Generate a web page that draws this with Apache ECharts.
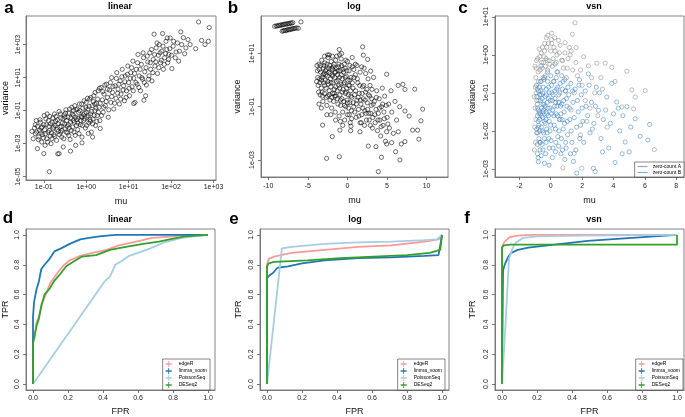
<!DOCTYPE html>
<html>
<head>
<meta charset="utf-8">
<script src="https://cdn.jsdelivr.net/npm/echarts/dist/echarts.min.js"></script>
<style>
  html, body { margin: 0; padding: 0; background: #fff; }
  #main { width: 685px; height: 417px; }
</style>
</head>
<body>
<div id="main"></div>
<script>
// ---- data (log panels keep log10 values) ----
// a: linear, [log10 mu, log10 variance]
const aPoints = [
  [-1.28,-2.25],[-1.22,-2.05],[-1.2,-2.4],[-1.15,-1.95],[-1.12,-2.6],[-1.1,-2.2],[-1.08,-1.7],[-1.05,-2.9],[-1.03,-2.45],[-1.0,-1.85],
  [-0.98,-2.15],[-0.97,-3.1],[-0.95,-1.5],[-0.93,-2.7],[-0.9,-2.3],[-0.88,-1.95],[-0.86,-1.35],[-0.85,-2.55],[-0.83,-3.0],[-0.8,-1.7],
  [-0.78,-2.1],[-0.76,-2.45],[-0.75,-1.2],[-0.73,-1.9],[-0.7,-2.8],[-0.68,-1.55],[-0.66,-2.25],[-0.64,-1.05],[-0.62,-2.0],[-0.6,-1.45],
  [-0.58,-2.6],[-0.56,-1.75],[-0.54,-3.2],[-0.52,-1.25],[-0.5,-2.1],[-0.48,-0.95],[-0.46,-1.6],[-0.44,-2.35],[-0.42,-1.85],[-0.4,-1.15],
  [-0.38,-2.75],[-0.36,-1.45],[-0.34,-0.8],[-0.32,-2.0],[-0.3,-1.3],[-0.28,-1.7],[-0.26,-2.5],[-0.24,-0.95],[-0.22,-1.55],[-0.2,-2.15],
  [-0.18,-1.1],[-0.16,-0.6],[-0.14,-1.85],[-0.12,-1.35],[-0.1,-2.6],[-0.08,-0.85],[-0.06,-1.6],[-0.04,-1.15],[-0.02,-2.05],[0.0,-0.5],
  [0.02,-1.4],[0.04,-0.9],[0.06,-1.75],[0.08,-0.3],[0.1,-1.2],[0.12,-2.3],[0.14,-0.7],[0.16,-1.5],[0.18,-0.1],[0.2,-1.0],
  [0.22,-1.9],[0.24,-0.55],[0.26,-1.3],[0.28,0.2],[0.3,-0.8],[-1.25,-2.7],[-1.18,-1.6],[-1.06,-2.05],[-0.92,-1.2],[-0.82,-2.35],
  [-0.72,-1.65],[-0.6,-2.3],[-0.5,-1.4],[-0.4,-2.05],[-0.3,-1.0],[-0.2,-1.75],[-0.1,-1.4],[0.0,-1.1],[0.1,-1.65],[0.2,-0.6],
  [-0.87,-4.7],[-1.0,-3.6],[-0.67,-3.62],[-0.64,-3.6],[-0.37,-3.45],[-1.15,-3.3],[-0.25,-3.1],[-0.1,-2.95],[0.15,-2.6],[0.33,-2.08],[0.05,-2.38],
  [0.32,-1.6],[0.35,0.4],[0.38,-0.35],[0.4,-1.1],[0.42,0.0],[0.45,-0.7],[0.48,0.6],[0.5,-0.2],[0.52,-1.4],[0.55,0.25],
  [0.58,-0.5],[0.6,1.0],[0.62,0.1],[0.65,-0.9],[0.68,0.5],[0.7,-0.25],[0.72,1.3],[0.75,0.3],[0.78,-0.6],[0.8,0.8],
  [0.82,0.0],[0.85,1.5],[0.88,0.5],[0.9,-0.4],[0.92,1.1],[0.95,0.2],[0.98,1.7],[1.0,0.7],[1.02,-0.1],[1.05,1.3],
  [1.08,0.45],[1.1,2.0],[1.12,0.95],[1.15,-0.5],[1.18,1.5],[1.2,0.6],[1.22,2.4],[1.25,1.1],[1.28,0.2],[1.3,1.8],
  [1.33,0.9],[1.35,2.2],[1.38,1.35],[1.4,-0.1],[1.42,0.55],[1.45,1.95],[1.48,1.1],[1.12,-0.57],[1.36,-0.37],
  [1.5,2.5],[1.52,1.5],[1.55,0.8],[1.58,2.1],[1.6,3.63],[1.62,1.7],[1.65,2.8],[1.68,1.25],[1.7,2.35],[1.72,3.0],
  [1.75,1.9],[1.78,2.6],[1.8,3.67],[1.82,1.5],[1.85,2.2],[1.88,3.2],[1.9,2.7],[1.92,1.9],[1.95,2.4],[1.98,3.4],
  [2.02,1.55],[2.05,2.9],[2.1,2.2],[2.15,3.1],[2.2,2.6],[2.23,3.77],[2.29,3.42],[2.35,2.8],[2.45,3.0],[2.58,2.75],
  [2.65,4.37],[2.72,3.25],[2.8,3.0],[2.9,4.03],[2.88,3.2],
  [-1.2,-1.85],[-1.17,-2.3],[-1.13,-2.75],[-1.09,-1.55],[-1.07,-2.35],[-1.04,-2.0],[-1.01,-2.65],[-0.99,-1.3],[-0.96,-2.4],[-0.94,-1.85],
  [-0.91,-2.9],[-0.89,-1.6],[-0.87,-2.2],[-0.84,-1.8],[-0.81,-2.7],[-0.79,-1.45],[-0.77,-2.0],[-0.74,-2.55],[-0.71,-1.35],[-0.69,-2.15],
  [-0.67,-1.8],[-0.63,-2.45],[-0.61,-1.2],[-0.59,-1.95],[-0.57,-2.2],[-0.55,-1.5],[-0.53,-2.7],[-0.51,-1.8],[-0.49,-1.15],[-0.47,-2.3],
  [-0.45,-1.95],[-0.43,-1.4],[-0.41,-2.5],[-0.39,-0.9],[-0.37,-1.7],[-0.35,-2.2],[-0.33,-1.2],[-0.31,-1.6],[-0.29,-2.3],[-0.27,-0.7],
  [-0.25,-1.4],[-0.23,-1.9],[-0.21,-0.9],[-0.19,-1.45],[-0.17,-2.4],[-0.15,-1.0],[-0.13,-1.6],[-0.11,-0.6],[-0.09,-1.9],[-0.07,-1.25],
  [-0.05,-0.4],[-0.03,-1.5],[-0.01,-0.8],[0.01,-1.9],[0.03,-0.25],[0.05,-1.3],[0.07,-0.75],[0.09,-1.55],[0.11,-0.2],[0.13,-1.05],
  [0.15,-1.8],[0.17,-0.45],[0.19,-1.3],[0.21,0.1],[0.23,-0.85],[0.25,-1.65],[0.27,-0.3],[0.29,-1.1],[0.31,0.35],[0.33,-0.55],
  [0.36,-1.3],[0.39,0.15],[0.41,-0.8],[0.44,0.55],[0.47,-0.45],[0.5,0.3],[0.53,-0.95],[0.57,0.7],[0.6,-0.15],[0.63,0.45],
  [0.67,-0.55],[0.71,0.95],[0.74,0.05],[0.77,0.6],[0.81,-0.3],[0.84,1.05],[0.87,0.25],[0.91,0.75],[0.94,-0.2],[0.97,1.2],
  [1.01,0.35],[1.04,0.95],[1.07,1.6],[1.11,0.2],[1.14,1.25],[1.17,0.7],[1.21,1.9],[1.24,0.4],[1.27,1.5],[1.31,1.0],
  [1.34,2.5],[1.37,0.7],[1.41,1.6],[1.44,2.3],[1.47,0.9],[1.51,1.9],[1.54,2.7],[1.57,1.3],[1.61,2.4],[1.64,1.95],
  [1.67,3.1],[1.71,1.6],[1.74,2.5],[1.77,2.05],[1.81,2.9],[1.84,1.8],[1.87,2.45],[1.91,3.4],[1.94,2.1],[1.97,2.75],
  [2.01,2.35],[2.06,3.2],[2.12,2.55],[2.18,2.0],[2.25,3.0],[2.32,2.45],[2.4,3.3]
];
// b: log, [mu, log10 variance]
const bPoints = [
  [-9.2,2.02],[-9.0,2.04],[-8.85,2.03],[-8.7,2.06],[-8.55,2.05],[-8.4,2.08],[-8.25,2.07],[-8.1,2.09],[-7.95,2.1],[-7.8,2.11],
  [-7.65,2.1],[-7.5,2.13],[-7.35,2.12],[-7.2,2.15],[-7.05,2.14],[-6.9,2.16],
  [-8.25,1.84],[-8.1,1.85],[-7.95,1.87],[-7.8,1.86],[-7.65,1.88],[-7.5,1.9],[-7.35,1.89],[-7.2,1.91],[-7.05,1.92],[-6.9,1.93],
  [-6.75,1.94],[-6.6,1.95],[-6.4,1.96],[-6.2,1.95],[-5.87,2.19],
  [-3.8,0.35],[-3.7,-0.2],[-3.6,0.6],[-3.5,0.05],[-3.45,-0.55],[-3.4,0.3],[-3.3,-0.3],[-3.25,0.75],[-3.2,0.1],[-3.1,-0.8],
  [-3.05,0.45],[-3.0,-0.1],[-2.95,0.25],[-2.9,-0.5],[-2.85,0.65],[-2.8,0.0],[-2.7,-0.3],[-2.65,0.4],[-2.6,-0.95],[-2.55,0.15],
  [-2.5,-0.6],[-2.45,0.85],[-2.4,-0.15],[-2.35,0.3],[-2.3,-0.4],[-2.25,0.55],[-2.2,-0.75],[-2.15,0.05],[-2.1,-0.25],[-2.05,0.7],
  [-2.0,-1.05],[-1.95,0.2],[-1.9,-0.5],[-1.85,0.4],[-1.8,-0.1],[-1.75,-0.8],[-1.7,0.6],[-1.65,-0.35],[-1.6,0.1],[-1.55,-1.2],
  [-1.5,0.3],[-1.45,-0.6],[-1.4,-0.05],[-1.35,0.9],[-1.3,-0.4],[-1.25,0.2],[-1.2,-0.9],[-1.15,0.5],[-1.1,-0.2],[-1.05,-1.35],[-1.0,0.1],
  [-0.95,-0.55],[-0.9,0.35],[-0.85,-0.95],[-0.8,-0.15],[-0.75,0.55],[-0.7,-0.7],[-0.65,0.05],[-0.6,-1.2],[-0.55,-0.35],[-0.5,0.3],
  [-0.45,-0.8],[-0.4,-0.1],[-0.35,-1.5],[-0.3,0.45],[-0.25,-0.5],[-0.2,-1.0],[-0.15,0.15],[-0.1,-0.3],[-0.05,-0.75],[0.0,-1.3],
  [0.05,0.0],[0.1,-0.55],[0.15,-1.05],[0.2,0.35],[0.25,-0.2],[0.3,-0.85],[0.35,-1.6],[0.4,-0.4],[0.45,0.1],[0.5,-1.15],
  [0.55,-0.65],[0.6,0.5],[0.7,-0.3],[0.8,-1.0],[0.9,-0.55],[1.0,0.2],[1.1,-1.4],[1.2,-0.75],[1.3,-0.1],[1.4,-1.1],
  [1.5,-0.5],[1.6,0.3],[1.7,-0.9],[1.8,-1.3],[1.9,-0.25],[2.0,-0.7],[2.1,0.45],[2.2,-1.15],[2.3,-0.45],[2.4,-1.5],
  [2.5,-0.85],[2.6,0.05],[2.7,-1.25],[2.8,-0.6],[2.9,-1.7],[3.0,-0.95],[3.1,-0.35],[3.2,-1.4],[3.3,0.1],
  [3.4,-0.8],[3.5,-1.6],[3.6,-1.1],[3.7,-0.4],[3.8,-1.9],[3.9,-1.25],[4.0,-0.7],[4.1,-1.5],[4.2,-2.1],[4.3,-1.0],
  [4.4,-0.3],[4.5,-1.7],[4.6,-1.2],[4.7,-0.6],[4.8,-2.3],[5.0,-1.4],[5.2,-0.9],[5.3,-1.8],[5.5,-0.4],[5.6,-1.2],
  [5.8,-2.0],[6.0,-0.8],[6.2,-1.5],[6.4,-0.2],[6.6,-1.0],[6.8,-2.4],
  [-3.2,-0.45],[-2.75,0.2],[-2.3,0.95],[-2.0,0.45],[-1.6,-0.6],[-1.2,0.35],[-0.8,0.8],[-0.4,0.6],[0.0,0.7],[0.4,-1.9],
  [0.8,0.4],[1.2,0.55],[1.6,-1.6],[-1.5,-1.5],[-2.6,-1.3],[-0.6,-1.7],[-3.6,-0.9],
  [-3.14,-1.69],[-1.92,-2.12],[-0.95,-1.88],[1.58,-1.94],[2.63,-2.48],[3.6,-2.5],[4.95,-2.4],[0.44,-1.73],
  [-2.63,-2.94],[-1.03,-2.88],[3.9,-3.44],[4.3,-2.9],[6.63,-3.0],[6.08,-2.69],
  [-1.03,1.15],[1.92,1.25],[2.0,0.94],[-0.74,1.0],[2.55,0.78],[2.93,0.34],[4.95,0.22],[7.0,-0.16],[8.5,-0.34],[7.26,-0.35],
  [9.5,-1.09],[9.28,-1.53],[9.03,-2.22],[8.86,-1.88],[7.8,-1.35],[7.26,-1.16],[8.23,-1.88],[7.26,-2.31],[6.42,-1.94],[5.58,-2.35],[4.95,-1.94],
  [-3.75,0.1],[-3.65,-0.45],[-3.55,0.4],[-3.48,-0.1],[-3.38,0.55],[-3.28,0.0],[-3.18,-0.6],[-3.08,0.2],[-2.98,0.55],[-2.88,-0.2],
  [-2.78,0.35],[-2.68,-0.65],[-2.58,0.6],[-2.48,-0.05],[-2.38,0.45],[-2.28,-0.55],[-2.18,0.25],[-2.08,-0.1],[-1.98,-0.65],[-1.88,0.15],
  [-1.78,0.5],[-1.68,-0.5],[-1.58,0.3],[-1.48,-0.25],[-1.38,0.45],[-1.28,-0.7],[-1.18,0.0],[-1.08,0.6],[-0.98,-0.3],[-0.88,-0.75],
  [-0.78,0.2],[-0.68,-0.45],[-0.58,0.4],[-0.48,-0.15],[-0.38,-0.95],[-0.28,0.1],[-0.18,-0.45],[-0.08,0.35],[0.02,-0.85],[0.12,-0.2],
  [0.22,-1.3],[0.32,0.0],[0.42,-0.6],[0.52,-1.45],[0.62,-0.1],[0.72,-0.85],[0.82,0.1],[0.92,-1.2],[1.02,-0.4],[1.12,-0.9],
  [1.25,0.05],[1.35,-0.65],[1.45,-1.35],[1.55,-0.2],[1.65,-0.75],[1.75,-1.6],[1.85,-0.5],[1.95,-1.05],[2.05,-0.2],[2.15,-1.7],
  [2.25,-0.75],[2.35,-1.25],[2.45,-0.35],[2.55,-1.1],[2.65,-0.55],[2.75,-1.5],[2.85,-0.2],[2.95,-1.25],[3.05,-0.7],[3.15,-1.8],
  [3.25,-0.9],[3.45,-1.3],[3.65,-0.65],[3.85,-1.5],[4.05,-1.05],[4.25,-1.75],[4.45,-0.9],[4.65,-1.45],[4.9,-0.95],[5.1,-1.65],
  [-3.9,-0.05],[-3.85,0.55],[-2.5,0.95],[-1.9,0.9],[-1.0,0.95],[-0.2,0.75],[0.6,0.85],[-3.3,-1.05],[-2.1,-1.3],[-0.9,-1.55],
  [-2.9,0.9],[-1.5,0.75],[0.3,0.55],[1.0,0.6],[1.8,0.5],[2.3,0.25]
];
// c: vsn, [mu, log10 variance]
const cPointsA = [
  [1.55,0.84],[0.06,0.57],[-0.19,0.51],[1.38,0.54],[0.49,0.38],[0.91,0.32],[1.19,0.19],[1.62,0.19],[0.06,0.3],[0.28,0.1],
  [1.23,0.0],[0.7,-0.14],[2.4,-0.29],[2.94,-0.22],[3.47,-0.22],[3.89,-0.33],[4.85,-0.43],[4.1,-0.7],[5.17,-0.92],[6.02,-0.94],
  [5.38,-1.11],[4.53,-1.37],[5.28,-1.42],[6.6,-2.49],[1.98,-2.98],[0.77,-2.97],[1.49,-2.59],[-1.04,-2.5],
  [-1.0,-0.3],[-0.95,-0.6],[-0.9,-0.15],[-0.85,-0.9],[-0.8,-0.45],[-0.75,-1.2],[-0.7,-0.05],[-0.65,-0.7],[-0.6,0.05],[-0.55,-0.35],
  [-0.5,-1.5],[-0.45,-0.2],[-0.4,0.1],[-0.35,-0.55],[-0.3,-0.1],[-0.25,0.2],[-0.2,-0.4],[-0.1,-0.15],[0.0,0.1],[0.1,-0.3],
  [0.2,0.2],[0.35,-0.2],[0.45,-0.45],[0.55,0.05],[0.8,-0.35],[1.0,-0.6],[1.1,-0.1],[1.4,-0.4],[1.7,-0.55],[2.0,-0.8],
  [2.2,-1.2],[2.6,-0.6],[2.8,-1.0],[3.0,-1.6],[3.3,-0.9],[3.6,-1.9],[-0.95,-1.7],[-0.9,-2.05],[-0.85,-1.4],[-0.8,-1.9],
  [-1.05,-1.1],[-0.7,-2.3],[0.3,-1.25],[0.6,-1.7],[1.3,-1.45],[1.9,-2.1],[2.3,-1.75],[1.5,-1.0],
  [-0.98,-0.85],[-0.93,-0.35],[-0.88,-1.2],[-0.83,-0.1],[-0.78,-0.7],[-0.73,0.15],[-0.68,-0.4],[-0.63,-0.95],[-0.58,-0.2],[-0.53,0.2],
  [-0.48,-0.6],[-0.43,-0.05],[-0.38,0.3],[-0.33,-0.3],[-0.28,0.45],[-0.23,-0.15],[-0.15,0.3],[-0.05,-0.25],[0.05,0.4],[0.15,-0.1],
  [0.25,0.45],[0.4,0.0],[0.6,0.25],[0.75,-0.15],[0.9,0.05],[1.05,-0.35],[1.3,0.1],[1.6,-0.2],[1.9,-0.4],[2.1,-0.05],
  [-1.0,-1.4],[-0.97,-2.3],[-0.92,-1.0],[-1.02,-1.9],[-0.85,-2.6],[-0.75,-1.55],[0.2,-0.7],[0.95,-0.95],[2.5,-1.4],[3.2,-0.6]
];
const cPointsB = [
  [-0.9,-0.8],[-0.85,-1.3],[-0.8,-1.75],[-0.78,-0.95],[-0.75,-2.2],[-0.72,-1.5],[-0.7,-1.05],[-0.68,-2.5],[-0.65,-1.2],[-0.62,-0.7],
  [-0.6,-1.9],[-0.58,-1.4],[-0.55,-2.35],[-0.52,-1.0],[-0.5,-1.65],[-0.48,-0.85],[-0.45,-2.05],[-0.42,-1.3],[-0.4,-1.75],[-0.38,-0.6],
  [-0.35,-1.1],[-0.32,-2.6],[-0.3,-1.5],[-0.28,-0.9],[-0.25,-1.95],[-0.22,-1.25],[-0.2,-0.7],[-0.15,-1.6],[-0.12,-2.2],[-0.1,-1.0],
  [-0.05,-1.4],[0.0,-1.85],[0.05,-0.8],[0.1,-1.2],[0.15,-2.45],[0.2,-1.6],[0.25,-0.95],[0.3,-1.95],[0.35,-0.6],[0.4,-1.35],
  [0.45,-2.15],[0.5,-1.05],[0.55,-1.7],[0.6,-0.75],[0.65,-2.6],[0.7,-1.3],[0.75,-0.9],[0.8,-1.95],[0.85,-1.5],[0.9,-0.65],
  [0.95,-2.3],[1.0,-1.15],[1.05,-1.75],[1.1,-0.85],[1.2,-1.4],[1.3,-2.0],[1.4,-0.95],[1.5,-1.65],[1.6,-2.5],[1.7,-1.2],
  [1.8,-0.8],[1.9,-1.85],[2.0,-1.4],[2.1,-2.3],[2.2,-0.95],[2.35,-1.6],[2.5,-2.05],[2.6,-1.25],[2.75,-1.8],[2.9,-0.85],
  [3.04,-1.46],[3.2,-2.2],[3.35,-1.7],[3.57,-1.11],[3.7,-2.45],[3.89,-0.75],[4.0,-1.55],[4.21,-1.24],[4.4,-2.0],[4.6,-1.6],
  [4.85,-1.36],[5.0,-2.55],[5.38,-1.68],[5.7,-2.14],[6.19,-2.24],[6.3,-1.83],[4.74,-2.29],[4.1,-2.83],[2.72,-2.98],[2.83,-3.07],
  [1.66,-3.11],[-0.11,-2.9],[-0.79,-2.81],[-0.8,-2.7],[2.4,-0.5],[1.83,-0.66],[0.7,-0.55],[0.28,-0.24],[-0.62,-0.29],
  [-0.85,-1.6],[-0.75,-1.85],[-0.65,-1.55],[-0.55,-1.15],[-0.45,-1.45],[-0.35,-1.8],[-0.25,-1.55],[-0.15,-1.15],[-0.05,-2.0],[0.05,-1.55],
  [0.15,-1.05],[0.25,-1.35],[0.35,-1.55],[0.45,-0.85],[0.55,-1.25],[0.65,-1.55],[-0.9,-1.95],[-0.7,-2.0],[-0.5,-2.5],[-0.3,-2.3],
  [-0.1,-2.45],[0.1,-2.7],[0.5,-2.4],[0.9,-2.75],[1.25,-2.6],[-0.2,-0.45],[0.0,-0.55],[0.4,-0.45],
  [-0.88,-1.1],[-0.83,-2.05],[-0.79,-1.45],[-0.74,-0.85],[-0.7,-1.7],[-0.66,-2.3],[-0.61,-1.05],[-0.57,-1.6],[-0.53,-2.0],[-0.49,-1.3],
  [-0.44,-0.65],[-0.4,-2.2],[-0.36,-1.35],[-0.31,-1.7],[-0.27,-1.05],[-0.23,-2.05],[-0.18,-1.4],[-0.14,-0.85],[-0.09,-1.75],[-0.04,-1.2],
  [0.02,-2.25],[0.07,-1.0],[0.12,-1.45],[0.18,-0.7],[0.22,-1.85],[0.27,-1.15],[0.33,-2.3],[0.38,-0.9],[0.43,-1.6],[0.48,-1.25],
  [0.53,-2.0],[0.58,-1.0],[0.63,-1.35],[0.68,-2.2],[0.73,-1.7],[0.78,-0.7],[0.83,-1.2],[0.88,-1.8],[0.93,-0.95],[0.98,-2.45],
  [1.03,-1.35],[1.08,-2.1],[1.15,-1.05],[1.22,-1.7],[1.28,-0.75],[1.35,-2.3],[1.42,-1.25],[1.55,-0.9],[1.65,-1.9],[1.75,-1.5],
  [1.85,-2.2],[1.95,-1.05],[2.05,-1.75],[2.25,-1.35],[2.45,-0.8],[2.65,-1.95],[2.85,-1.35],[3.1,-1.0],[3.3,-2.55],[3.5,-1.45],
  [3.8,-1.8],[4.3,-1.4],[4.55,-2.6],[5.1,-1.9],[-0.86,-2.35],[-0.6,-2.65],[-0.4,-2.85],[0.3,-2.55],[0.75,-2.5],[1.45,-2.8]
];

// ROC curves, [FPR, TPR]
const dEdgeR   = [[0,0],[0,0.3],[0.01,0.32],[0.02,0.41],[0.04,0.48],[0.05,0.54],[0.076,0.61],[0.1,0.68],[0.13,0.73],[0.17,0.79],[0.21,0.83],[0.27,0.86],[0.34,0.88],[0.42,0.9],[0.49,0.93],[0.59,0.955],[0.68,0.98],[0.8,0.99],[0.87,1.0],[1,1]];
const dLimma   = [[0,0],[0,0.45],[0.006,0.55],[0.019,0.63],[0.034,0.69],[0.047,0.77],[0.066,0.8],[0.095,0.84],[0.123,0.89],[0.16,0.91],[0.21,0.94],[0.27,0.97],[0.32,0.98],[0.38,0.99],[0.47,1.0],[1,1]];
const dPoisson = [[0,0],[0.41,0.69],[0.44,0.72],[0.47,0.8],[0.5,0.82],[0.55,0.86],[0.6,0.88],[0.67,0.91],[0.75,0.95],[0.85,0.98],[1,1]];
const dDeseq   = [[0,0],[0,0.27],[0.01,0.33],[0.02,0.39],[0.034,0.44],[0.047,0.52],[0.066,0.6],[0.095,0.64],[0.12,0.69],[0.15,0.73],[0.19,0.79],[0.23,0.82],[0.28,0.855],[0.36,0.865],[0.44,0.9],[0.53,0.92],[0.63,0.94],[0.72,0.955],[0.8,0.975],[0.87,0.99],[1,1]];

const eEdgeR   = [[0,0],[0,0.8],[0.01,0.84],[0.04,0.855],[0.14,0.88],[0.33,0.9],[0.52,0.92],[0.71,0.93],[0.9,0.955],[0.98,0.97],[1,1]];
const eLimma   = [[0,0],[0,0.71],[0.015,0.73],[0.034,0.745],[0.06,0.78],[0.12,0.79],[0.2,0.81],[0.33,0.83],[0.52,0.845],[0.71,0.85],[0.9,0.86],[0.98,0.865],[0.99,0.93],[1,1]];
const ePoisson = [[0,0],[0.085,0.91],[0.14,0.92],[0.33,0.94],[0.52,0.95],[0.71,0.955],[0.9,0.965],[0.97,0.97],[1,1]];
const eDeseq   = [[0,0],[0,0.79],[0.01,0.81],[0.04,0.82],[0.23,0.83],[0.42,0.845],[0.61,0.855],[0.8,0.865],[0.93,0.88],[0.99,0.9],[1,1]];

const fEdgeR   = [[0,0],[0,0.92],[0.015,0.955],[0.044,0.985],[0.09,0.995],[0.17,1],[1,1]];
const fLimma   = [[0,0],[0.006,0.76],[0.015,0.8],[0.034,0.85],[0.053,0.88],[0.09,0.9],[0.15,0.915],[0.3,0.935],[0.49,0.96],[0.68,0.975],[0.87,0.99],[1,1]];
const fPoisson = [[0,0],[0.02,0.4],[0.04,0.84],[0.06,0.91],[0.08,0.95],[0.12,0.98],[0.2,0.99],[0.45,0.995],[1,1]];
const fDeseq   = [[0,0],[0,0.915],[0.01,0.93],[0.05,0.935],[1,0.935],[1,1]];

// tick positions
const aTicksX = [-1, 0, 1, 2, 3];
const aTicksY = [-5, -3, -1, 1, 3];
const bTicksX = [-10, -5, 0, 5, 10];
const bTicksY = [-3, -1, 1];
const cTicksX = [-2, 0, 2, 4, 6, 8];
const cTicksY = [-3, -2, -1, 0, 1];
const rocTicks = [0, 0.2, 0.4, 0.6, 0.8, 1.0];

const methods = ["edgeR", "limma_voom", "PoissonSeq", "DESeq2"];
const groups  = ["zero-count A", "zero-count B"];

// ---- layout ----
const FONT = "Liberation Sans, Arial, sans-serif";
const colors = { edgeR: "#fb9a99", limma_voom: "#1f78b4", PoissonSeq: "#a6cee3", DESeq2: "#33a02c" };
const boxes = [
    { left: 26,  top: 16,  width: 190, height: 164 },
    { left: 261, top: 16,  width: 187, height: 161 },
    { left: 495, top: 16,  width: 189, height: 161 },
    { left: 26,  top: 229, width: 189, height: 163 },
    { left: 260, top: 229, width: 189, height: 163 },
    { left: 495, top: 229, width: 189, height: 163 }
];

function logLabel(v) {
    let e = Math.round(v);
    return "1e" + (e < 0 ? "-" : "+") + String(Math.abs(e)).padStart(2, "0");
}
function plain(v) { return String(v); }
function fixed1(v) { return v.toFixed(1); }

function makeAxis(i, min, max, ticks, fmt, name, nameGap, margin, isY) {
    return {
        type: "value", gridIndex: i, min: min, max: max,
        name: name, nameLocation: "middle", nameGap: nameGap,
        nameTextStyle: { fontFamily: FONT, fontSize: 9, color: "#111" },
        axisLine: { show: true, onZero: false, lineStyle: { color: "#666", width: 0.8 } },
        axisTick: { show: true, length: 3, customValues: ticks, lineStyle: { color: "#555", width: 0.8 } },
        axisLabel: { customValues: ticks, formatter: fmt, fontFamily: FONT, fontSize: 7, color: "#222", margin: margin, rotate: isY ? 90 : 0 },
        splitLine: { show: false }
    };
}

const xAxes = [
    makeAxis(0, -1.42, 3.06, aTicksX, logLabel, "mu", 17, 4),
    makeAxis(1, -10.92, 12.7, bTicksX, plain, "mu", 19, 6),
    makeAxis(2, -3.55, 8.49, cTicksX, plain, "mu", 19, 6),
    makeAxis(3, -0.04, 1.04, rocTicks, fixed1, "FPR", 17, 5),
    makeAxis(4, -0.04, 1.04, rocTicks, fixed1, "FPR", 17, 5),
    makeAxis(5, -0.04, 1.04, rocTicks, fixed1, "FPR", 17, 5)
];
const yAxes = [
    makeAxis(0, -5.2, 4.73, aTicksY, logLabel, "variance", 16, 4, true),
    makeAxis(1, -3.64, 2.41, bTicksY, logLabel, "variance", 19, 5, true),
    makeAxis(2, -3.21, 1.02, cTicksY, logLabel, "variance", 18, 5, true),
    makeAxis(3, -0.04, 1.04, rocTicks, fixed1, "TPR", 16, 5, true),
    makeAxis(4, -0.04, 1.04, rocTicks, fixed1, "TPR", 17, 5, true),
    makeAxis(5, -0.04, 1.04, rocTicks, fixed1, "TPR", 18, 5, true)
];

function scatter(name, pts, i, color) {
    return {
        type: "scatter", name: name, xAxisIndex: i, yAxisIndex: i, data: pts,
        symbol: "circle", symbolSize: 4.2, silent: true,
        itemStyle: { color: "rgba(0,0,0,0)", borderColor: color, borderWidth: 0.7 }
    };
}
function roc(name, pts, i) {
    return {
        type: "line", name: name, xAxisIndex: i, yAxisIndex: i, data: pts,
        symbol: "none", silent: true,
        lineStyle: { color: colors[name], width: 1.8 },
        itemStyle: { color: colors[name] }
    };
}

const CROSS = "path://M0,3.6H10V6.4H0Z M4.3,0H5.7V10H4.3Z";
function rocLegend(right, bottom) {
    return {
        orient: "vertical", right: right, bottom: bottom,
        data: methods, icon: CROSS, itemWidth: 10, itemHeight: 6, itemGap: 1,
        padding: [2, 3], borderColor: "#333", borderWidth: 0.6, backgroundColor: "#fff",
        itemStyle: { borderWidth: 0 }, selectedMode: false,
        textStyle: { fontFamily: FONT, fontSize: 5, color: "#000" }
    };
}

let texts = [
    ["a", 9, 8, 17], ["b", 233, 8, 17], ["c", 463, 8, 17],
    ["d", 8, 218, 17], ["e", 234, 219, 17], ["f", 467, 218, 17]
].map(t => ({ type: "text", x: t[1], y: t[2],
    style: { text: t[0], fontFamily: FONT, fontSize: t[3], fontWeight: "bold", fill: "#000", align: "center", verticalAlign: "middle" } }));
texts = texts.concat([
    ["linear", 120, 7], ["log", 354, 7], ["vsn", 594, 7],
    ["linear", 120, 220], ["log", 355, 220], ["vsn", 594, 220]
].map(t => ({ type: "text", x: t[1], y: t[2],
    style: { text: t[0], fontFamily: FONT, fontSize: 9, fontWeight: "bold", fill: "#000", align: "center", verticalAlign: "middle" } })));

let myChart = echarts.init(document.getElementById("main"));
myChart.setOption({
    animation: false,
    backgroundColor: "#fff",
    grid: boxes.map(b => Object.assign({ show: true, borderColor: "#666", borderWidth: 0.8, backgroundColor: "transparent" }, b)),
    xAxis: xAxes,
    yAxis: yAxes,
    legend: [
        {
            orient: "vertical", right: 1, bottom: 240,
            data: groups.map((g, k) => ({ name: g, itemStyle: { color: k ? "#5b9bd5" : "#8c8c8c", borderWidth: 0 } })),
            icon: "path://M0,4.4H10V5.6H0Z", itemWidth: 10, itemHeight: 6, itemGap: 1,
            padding: [2, 3], borderColor: "#333", borderWidth: 0.6, backgroundColor: "#fff",
            selectedMode: false, textStyle: { fontFamily: FONT, fontSize: 5, color: "#000" }
        },
        rocLegend(475, 27),
        rocLegend(240, 27),
        rocLegend(2, 27)
    ],
    graphic: texts,
    series: [
        scatter("a", aPoints, 0, "#000"),
        scatter("b", bPoints, 1, "#000"),
        scatter("zero-count A", cPointsA, 2, "#8c8c8c"),
        scatter("zero-count B", cPointsB, 2, "#3f86c6"),
        roc("edgeR", dEdgeR, 3), roc("limma_voom", dLimma, 3), roc("PoissonSeq", dPoisson, 3), roc("DESeq2", dDeseq, 3),
        roc("edgeR", eEdgeR, 4), roc("limma_voom", eLimma, 4), roc("PoissonSeq", ePoisson, 4), roc("DESeq2", eDeseq, 4),
        roc("edgeR", fEdgeR, 5), roc("limma_voom", fLimma, 5), roc("PoissonSeq", fPoisson, 5), roc("DESeq2", fDeseq, 5)
    ]
});
</script>
</body>
</html>
